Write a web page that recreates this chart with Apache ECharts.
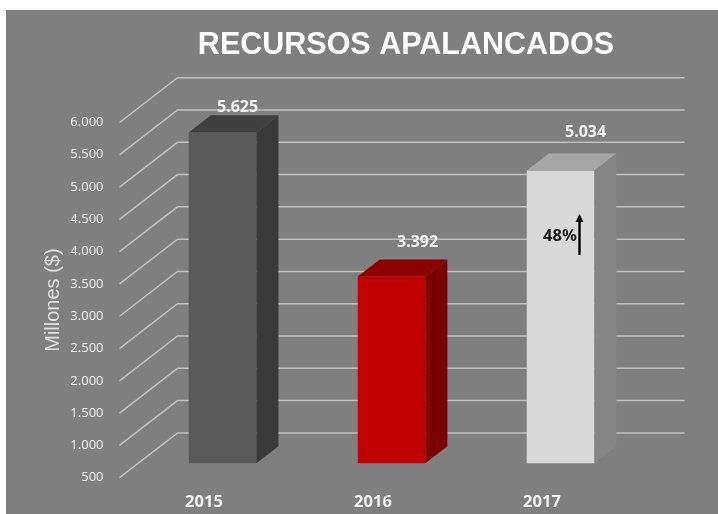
<!DOCTYPE html>
<html>
<head>
<meta charset="utf-8">
<script src="https://cdn.jsdelivr.net/npm/echarts@6/dist/echarts.min.js"></script>
<style>html,body{margin:0;padding:0;background:#fff}#c{width:718px;height:514px}</style>
</head>
<body>
<div id="c"></div>
<script>
const categories = ['2015', '2016', '2017'];
const values = [5625, 3392, 5034];
const valueLabels = ['5.625', '3.392', '5.034'];
const yTicks = [500, 1000, 1500, 2000, 2500, 3000, 3500, 4000, 4500, 5000, 5500, 6000];
const frontColors = ['#595959', '#c00000', '#d9d9d9'];
const topColors = ['#404040', '#8e0000', '#a6a6a6'];
const sideColors = ['#393939', '#7c0000', '#868686'];
const labelShift = [[15, -25], [26, -34], [25, -38]];

// projection of the pseudo 3D floor
const wallDX = 58, wallDY = -44.8;
const barNear = 0.32, barFar = 0.70, barRatio = 0.4;
const FONT = '"Noto Sans", sans-serif';

const chart = echarts.init(document.getElementById('c'), null, { renderer: 'canvas' });

function renderGrid(params, api) {
  const v = api.value(0);
  const p = api.coord([0, v]);
  const x0 = params.coordSys.x;
  const x1 = x0 + params.coordSys.width;
  const y = p[1];
  return {
    type: 'polyline',
    shape: { points: [[x0, y], [x0 + wallDX, y + wallDY], [x1 + wallDX, y + wallDY]] },
    style: { fill: 'none', stroke: '#c0c0c0', lineWidth: 1.5 }
  };
}

function renderBar(params, api) {
  const i = api.value(0);
  const topP = api.coord([i, api.value(1)]);
  const baseP = api.coord([i, 500]);
  const w = api.size([1, 0])[0] * barRatio;
  const ox = topP[0] + wallDX * barNear - w / 2;
  const l = ox, r = ox + w;
  const t = topP[1] + wallDY * barNear, b = baseP[1] + wallDY * barNear;
  const dx = wallDX * (barFar - barNear), dy = wallDY * (barFar - barNear);
  return {
    type: 'group',
    children: [
      { type: 'polygon', shape: { points: [[l, b], [r, b], [r, t], [l, t]] },
        style: { fill: frontColors[i] } },
      { type: 'polygon', shape: { points: [[l, t], [r, t], [r + dx, t + dy], [l + dx, t + dy]] },
        style: { fill: topColors[i] } },
      { type: 'polygon', shape: { points: [[r, b], [r + dx, b + dy], [r + dx, t + dy], [r, t]] },
        style: { fill: sideColors[i] } },
      { type: 'text', x: (l + r) / 2 + labelShift[i][0], y: t + labelShift[i][1],
        style: { text: valueLabels[i], fill: '#f2f2f2', font: 'bold 16px ' + FONT, align: 'center', verticalAlign: 'middle' } }
    ]
  };
}

chart.setOption({
  animation: false,
  backgroundColor: '#ffffff',
  title: {
    text: 'RECURSOS APALANCADOS',
    left: 401, top: 25, textAlign: 'center',
    textStyle: { color: '#ffffff', fontSize: 30.5, fontWeight: 'bold', fontFamily: '"Liberation Sans", Arial, sans-serif' }
  },
  grid: { left: 119.5, right: 91.5, top: 122.5, bottom: 36.3, containLabel: false },
  xAxis: {
    type: 'category', data: categories,
    axisLine: { show: false }, axisTick: { show: false },
    axisLabel: { color: '#f2f2f2', fontFamily: FONT, fontWeight: 'bold', fontSize: 16.5, margin: 16.5 }
  },
  yAxis: {
    type: 'value', min: 500, max: 6000, interval: 500,
    name: 'Millones ($)', nameLocation: 'middle', nameGap: 56, nameMoveOverlap: false,
    nameTextStyle: { color: '#e0e0e0', fontSize: 20, fontFamily: '"Liberation Sans", Arial, sans-serif' },
    axisLine: { show: false }, axisTick: { show: false }, splitLine: { show: false },
    axisLabel: {
      color: '#ececec', fontFamily: FONT, fontSize: 13, margin: 16, padding: [2, 0, 0, 0],
      formatter: v => String(v).replace(/\B(?=(\d{3})+$)/g, '.')
    }
  },
  graphic: [
    { type: 'rect', z: -10, silent: true, shape: { x: 6, y: 10, width: 712, height: 504 },
      style: { fill: '#7f7f7f' } },
    { type: 'text', z: 50, x: 560, y: 236,
      style: { text: '48%', fill: '#1a1a1a', font: 'bold 16.5px ' + FONT, align: 'center', verticalAlign: 'middle' } },
    { type: 'line', z: 50, shape: { x1: 579.5, y1: 255, x2: 579.5, y2: 220 },
      style: { stroke: '#000', lineWidth: 2.4 } },
    { type: 'polygon', z: 50, shape: { points: [[575.5, 222], [579.5, 214], [583.5, 222]] },
      style: { fill: '#000' } }
  ],
  series: [
    {
      type: 'custom', name: 'grid', coordinateSystem: 'cartesian2d', clip: false, silent: true, z: 1,
      encode: { y: 0 }, data: yTicks.map(v => [v]), renderItem: renderGrid
    },
    {
      type: 'custom', name: 'Recursos', coordinateSystem: 'cartesian2d', clip: false, z: 2,
      encode: { x: 0, y: 1 }, data: values.map((v, i) => [i, v]), renderItem: renderBar
    }
  ]
});
</script>
</body>
</html>
